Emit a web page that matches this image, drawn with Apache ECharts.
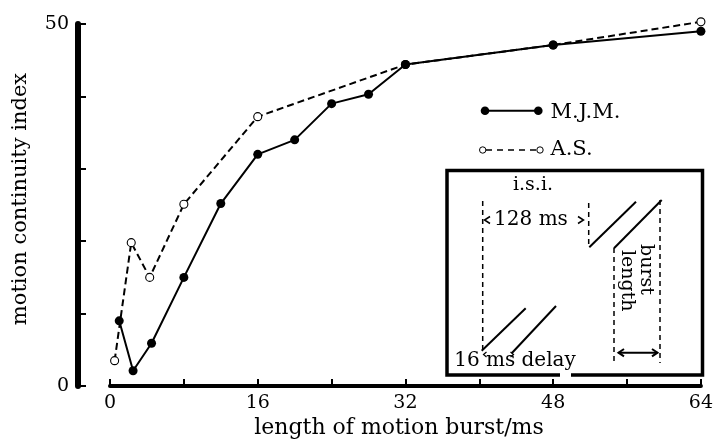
<!DOCTYPE html>
<html>
<head>
<meta charset="utf-8">
<script src="https://cdn.jsdelivr.net/npm/echarts@6/dist/echarts.min.js"></script>
<style>
  html, body { margin: 0; padding: 0; background: #fff; }
  #chart { width: 716px; height: 442px; }
</style>
</head>
<body>
<div id="chart"></div>
<script>
// Motion continuity index against burst length for two observers
const mjmX = [1, 2.5, 4.5, 8, 12, 16, 20, 24, 28, 32, 48, 64];
const mjmY = [9.0, 2.1, 5.9, 15.0, 25.2, 32.0, 34.0, 39.0, 40.3, 44.4, 47.1, 49.0];
const asX = [0.5, 2.3, 4.3, 8, 16, 32, 48, 64];
const asY = [3.5, 19.8, 15.0, 25.1, 37.2, 44.4, 47.1, 50.3];
const xTickLabels = [0, 16, 32, 48, 64];
const yTickLabels = [0, 50];
const seriesNames = ['M.J.M.', 'A.S.'];
const xTitle = 'length of motion burst/ms';
const yTitle = 'motion continuity index';

const FONT = 'DejaVu Serif';
const INK = '#000';
const pairs = (xs, ys) => xs.map((x, i) => [x, ys[i]]);

// Inset sketch of the stimulus sequence (drawn shapes only)
function inset() {
  const el = [];
  const dash = { stroke: INK, lineWidth: 1.5, lineDash: [5, 4] };
  const solid = { stroke: INK, lineWidth: 2 };
  const seg = (x1, y1, x2, y2, style) => el.push({ type: 'line', shape: { x1, y1, x2, y2 }, style });
  const txt = (text, x, y, size, extra) => el.push(Object.assign({
    type: 'text', x, y,
    style: { text, fontFamily: FONT, fontSize: size, fill: INK, align: 'center', verticalAlign: 'middle' }
  }, extra || {}));
  // frame, open at the bottom where the caption descends
  el.push({ type: 'polyline', shape: { points: [[560, 375], [447, 375], [447, 170.5], [702.5, 170.5], [702.5, 375], [571, 375]] },
            style: { stroke: INK, lineWidth: 3.5, fill: null } });
  // dashed markers
  seg(482.7, 201, 482.7, 351, dash);
  seg(588.7, 203, 588.7, 247, dash);
  seg(614, 248, 614, 363, dash);
  seg(660, 200, 660, 363, dash);
  // motion bursts
  seg(589.3, 247.3, 636, 201.7, solid);
  seg(614, 248.3, 661.7, 200, solid);
  seg(481.7, 350.7, 525.7, 308.3, solid);
  seg(511.7, 353.3, 556, 306, solid);
  // chevrons and double arrow
  const chev = (pts, w) => el.push({ type: 'polyline', shape: { points: pts }, style: { stroke: INK, lineWidth: w || 1.5, fill: null } });
  chev([[490, 216.5], [484.5, 220], [490, 223.5]]);
  chev([[578, 216.5], [583.5, 220], [578, 223.5]]);
  chev([[486.5, 352], [483.5, 354.5], [486.5, 357]], 1.2);
  chev([[510.5, 352], [513.5, 354.5], [510.5, 357]], 1.2);
  seg(618.5, 352.7, 657.5, 352.7, solid);
  chev([[624, 349], [618.5, 352.7], [624, 356.4]], 2);
  chev([[652, 349], [657.5, 352.7], [652, 356.4]], 2);
  // captions
  txt('i.s.i.', 533, 185, 19);
  txt('128 ms', 531, 220, 20);
  txt('16 ms delay', 515, 361, 20);
  el.push({ type: 'text', x: 646, y: 244, rotation: -Math.PI / 2,
            style: { text: 'burst', fontFamily: FONT, fontSize: 19, fill: INK, align: 'left', verticalAlign: 'middle' } });
  el.push({ type: 'text', x: 627, y: 250, rotation: -Math.PI / 2,
            style: { text: 'length', fontFamily: FONT, fontSize: 19, fill: INK, align: 'left', verticalAlign: 'middle' } });
  return el;
}

// Legend rows
function legend() {
  return [
    { type: 'line', shape: { x1: 485, y1: 110.7, x2: 538.3, y2: 110.7 }, style: { stroke: INK, lineWidth: 2 } },
    { type: 'circle', shape: { cx: 485, cy: 110.7, r: 4.3 }, style: { fill: INK } },
    { type: 'circle', shape: { cx: 538.3, cy: 110.7, r: 4.3 }, style: { fill: INK } },
    { type: 'text', x: 550.5, y: 113, style: { text: seriesNames[0], fontFamily: FONT, fontSize: 21, fill: INK, align: 'left', verticalAlign: 'middle' } },
    { type: 'line', shape: { x1: 486, y1: 150, x2: 536.5, y2: 150 }, style: { stroke: INK, lineWidth: 1.6, lineDash: [6, 5] } },
    { type: 'circle', shape: { cx: 482.7, cy: 150, r: 3.2 }, style: { fill: '#fff', stroke: INK, lineWidth: 1 } },
    { type: 'circle', shape: { cx: 540, cy: 150, r: 3.2 }, style: { fill: '#fff', stroke: INK, lineWidth: 1 } },
    { type: 'text', x: 550.5, y: 150, style: { text: seriesNames[1], fontFamily: FONT, fontSize: 21, fill: INK, align: 'left', verticalAlign: 'middle' } }
  ];
}

const chart = echarts.init(document.getElementById('chart'), null, { renderer: 'canvas' });
chart.setOption({
  animation: false,
  backgroundColor: '#fff',
  grid: { left: 110, right: 12, top: 24, bottom: 56, containLabel: false },
  xAxis: {
    type: 'value', min: 0, max: 64, interval: 8,
    axisLine: { onZero: false, lineStyle: { color: INK, width: 4 } },
    axisTick: { inside: true, length: 7, lineStyle: { color: INK, width: 2 } },
    axisLabel: {
      margin: 8, color: INK, fontFamily: FONT, fontSize: 19,
      formatter: v => (xTickLabels.includes(v) ? String(v) : '')
    },
    splitLine: { show: false }
  },
  yAxis: {
    type: 'value', min: 0, max: 50, interval: 10, offset: 32,
    axisLine: { show: true, onZero: false, lineStyle: { color: INK, width: 6 } },
    axisTick: { show: true, inside: true, length: 8, lineStyle: { color: INK, width: 2 } },
    axisLabel: {
      margin: 9, color: INK, fontFamily: FONT, fontSize: 19,
      formatter: v => (yTickLabels.includes(v) ? String(v) : '')
    },
    splitLine: { show: false }
  },
  series: [
    {
      name: seriesNames[1], type: 'line', data: pairs(asX, asY), clip: false, z: 2,
      symbol: 'circle', symbolSize: 8,
      itemStyle: { color: '#fff', borderColor: INK, borderWidth: 1.1 },
      lineStyle: { color: INK, width: 2, type: [7, 4] }
    },
    {
      name: seriesNames[0], type: 'line', data: pairs(mjmX, mjmY), clip: false, z: 3,
      symbol: 'circle', symbolSize: 9,
      itemStyle: { color: INK, borderColor: INK, borderWidth: 0 },
      lineStyle: { color: INK, width: 2 }
    }
  ],
  graphic: [
    { type: 'text', x: 21, y: 199, rotation: Math.PI / 2,
      style: { text: yTitle, fontFamily: FONT, fontSize: 21, fill: INK, align: 'center', verticalAlign: 'middle' } },
    { type: 'text', x: 399, y: 428,
      style: { text: xTitle, fontFamily: FONT, fontSize: 22, fill: INK, align: 'center', verticalAlign: 'middle' } }
  ].concat(legend(), inset())
});
</script>
</body>
</html>
